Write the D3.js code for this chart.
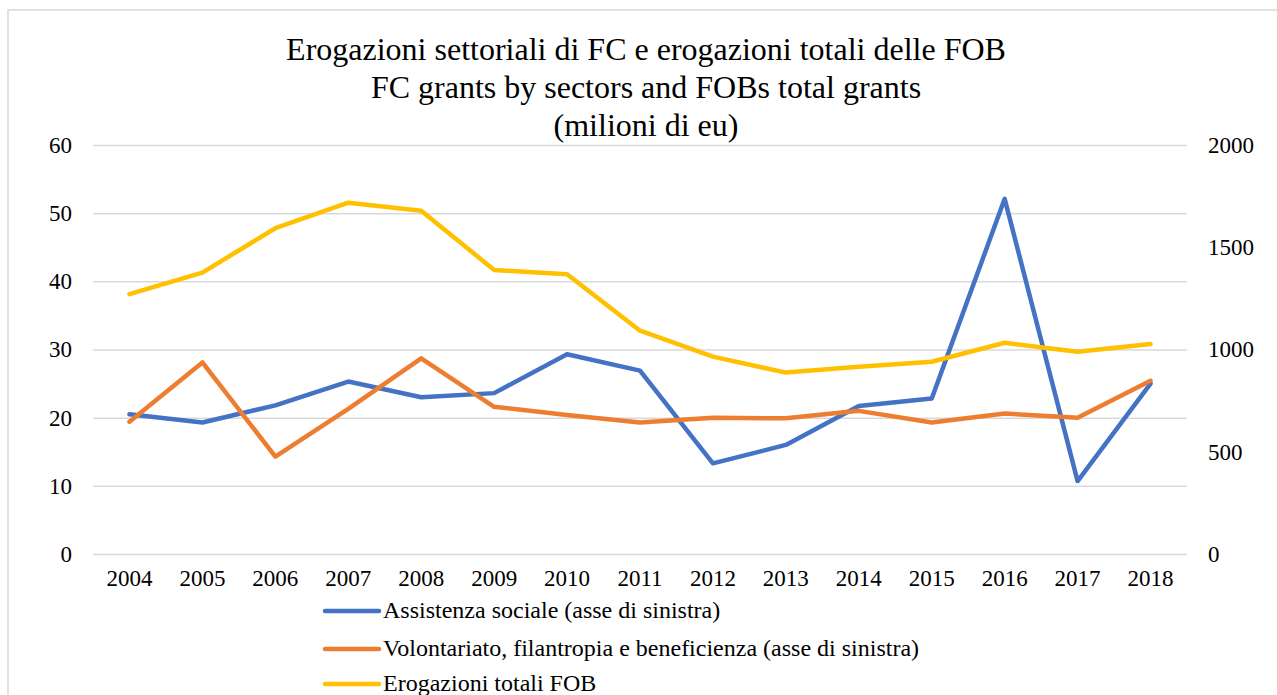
<!DOCTYPE html>
<html><head><meta charset="utf-8">
<script src="https://cdn.jsdelivr.net/npm/d3@7"></script>
<style>
html,body{margin:0;padding:0;background:#fff;overflow:hidden;}
text{font-family:"Liberation Serif","Times New Roman",serif;fill:#000;}
</style></head>
<body>
<svg id="c" width="1277" height="695"></svg>
<script>
const years = ["2004","2005","2006","2007","2008","2009","2010","2011","2012","2013","2014","2015","2016","2017","2018"];
const assistenza = [20.5,19.3,21.8,25.3,23.0,23.6,29.3,26.9,13.3,16.0,21.7,22.8,52.1,10.7,25.0];
const volontariato = [19.4,28.1,14.3,21.3,28.7,21.6,20.4,19.3,20.0,19.9,21.0,19.3,20.6,20.0,25.4];
const erogazioniFOB = [1271,1376,1593,1718,1679,1389,1368,1092,965,887,916,940,1033,989,1027];
const leftTicks = [0,10,20,30,40,50,60];
const rightTicks = [0,500,1000,1500,2000];
const titleLines = ["Erogazioni settoriali di FC e erogazioni totali delle FOB","FC grants by sectors and FOBs total grants","(milioni di eu)"];
const seriesNames = ["Assistenza sociale (asse di sinistra)","Volontariato, filantropia e beneficienza (asse di sinistra)","Erogazioni totali FOB"];
const colors = ["#4472C4","#ED7D31","#FFC000"];

const svg = d3.select("#c");
svg.append("rect").attr("x",8).attr("y",10).attr("width",1290).attr("height",720)
  .attr("fill","#fff").attr("stroke","#d9d9d9").attr("stroke-width",1.5);

const x = d3.scaleBand().domain(years).range([93,1187]);
const yL = d3.scaleLinear().domain([0,60]).range([554,145]);
const yR = d3.scaleLinear().domain([0,2000]).range([554,145]);

// gridlines
const gridAxis = d3.axisLeft(yL).tickValues(leftTicks).tickSize(-(1187-93)).tickFormat("");
const gg = svg.append("g").attr("transform","translate(93,0)").call(gridAxis);
gg.select(".domain").remove();
gg.selectAll("line").attr("stroke","#d9d9d9").attr("stroke-width",1.5);

// left axis
const la = svg.append("g").attr("transform","translate(72,0)")
  .call(d3.axisLeft(yL).tickValues(leftTicks).tickSize(0).tickPadding(0).tickFormat(d3.format("d")));
la.select(".domain").remove();
la.selectAll("text").style("font-size","23px").style("font-family","Liberation Serif").attr("fill","#000");

// right axis
const ra = svg.append("g").attr("transform","translate(1208,0)")
  .call(d3.axisRight(yR).tickValues(rightTicks).tickSize(0).tickPadding(0).tickFormat(d3.format("d")));
ra.select(".domain").remove();
ra.selectAll("text").style("font-size","23px").style("font-family","Liberation Serif").attr("fill","#000");

// x axis
const xa = svg.append("g").attr("transform","translate(0,570)")
  .call(d3.axisBottom(x).tickSize(0).tickPadding(0));
xa.select(".domain").remove();
xa.selectAll("text").style("font-size","23px").style("font-family","Liberation Serif").attr("fill","#000");

const xc = d => x(d) + x.bandwidth()/2;
const lineL = d3.line().x((d,i)=>xc(years[i])).y(d=>yL(d));
const lineR = d3.line().x((d,i)=>xc(years[i])).y(d=>yR(d));

[[assistenza,lineL,0],[volontariato,lineL,1],[erogazioniFOB,lineR,2]].forEach(([data,ln,i])=>{
  svg.append("path").datum(data).attr("d",ln).attr("fill","none")
    .attr("stroke",colors[i]).attr("stroke-width",4.5)
    .attr("stroke-linejoin","round").attr("stroke-linecap","round");
});

// title
const t = svg.append("text").attr("text-anchor","middle").style("font-size","32px");
titleLines.forEach((s,i)=>{
  t.append("tspan").attr("x",646).attr("y",60+i*38).text(s);
});

// legend
const legY = [611,649,684];
seriesNames.forEach((s,i)=>{
  svg.append("line").attr("x1",325).attr("x2",379).attr("y1",legY[i]).attr("y2",legY[i])
    .attr("stroke",colors[i]).attr("stroke-width",4.5).attr("stroke-linecap","round");
  svg.append("text").attr("x",383).attr("y",legY[i]+7).style("font-size","24px").text(s);
});
</script>
</body></html>
